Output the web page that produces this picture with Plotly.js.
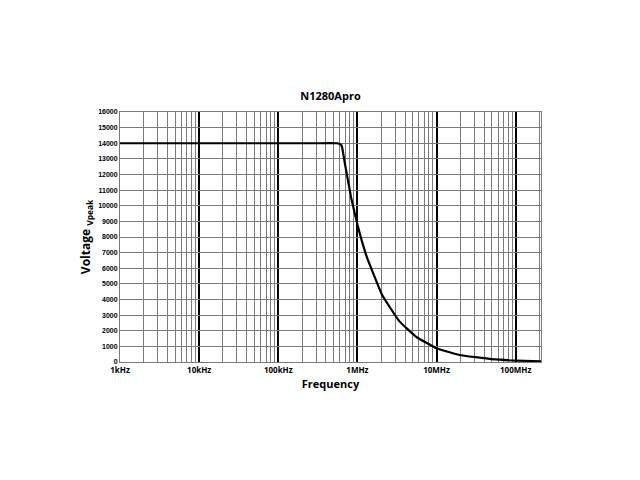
<!DOCTYPE html>
<html>
<head>
<meta charset="utf-8">
<script src="https://cdn.plot.ly/plotly-3.0.1.min.js"></script>
<style>html,body{margin:0;padding:0;background:#fff;}#chart{width:640px;height:480px;}</style>
</head>
<body>
<div id="chart"></div>
<script>
var freqHz = [1e3, 1e4, 1e5, 3e5, 5.5e5, 6e5, 6.2e5, 6.4e5, 7e5, 8.35e5, 1e6, 1.13e6, 1.32e6, 2.07e6, 3.4e6, 5.56e6, 1e7, 1.94e7, 5e7, 1e8, 2.1e8];
var voltageVpeak = [14000, 14000, 14000, 14000, 14000, 13950, 13900, 13750, 12600, 10500, 8800, 7800, 6700, 4250, 2600, 1600, 880, 450, 180, 90, 45];
var xTickVals = [1e3, 1e4, 1e5, 1e6, 1e7, 1e8];
var xTickText = ['1kHz', '10kHz', '100kHz', '1MHz', '10MHz', '100MHz'];

var trace = {
  x: freqHz, y: voltageVpeak, type: 'scatter', mode: 'lines',
  line: {color: '#000', width: 2.2, shape: 'spline', smoothing: 0.3},
  hoverinfo: 'skip', showlegend: false
};

var layout = {
  width: 640, height: 480,
  margin: {l: 120, r: 99, t: 112, b: 118},
  paper_bgcolor: '#fff', plot_bgcolor: '#fff',
  showlegend: false,
  title: {text: 'N1280Apro', x: 0.5, xref: 'paper', y: 0.8, yref: 'container', yanchor: 'middle',
    font: {family: 'Open Sans', size: 11, color: '#000', weight: 700}},
  xaxis: {
    type: 'log', range: [3, 8.32],
    tickvals: xTickVals, ticktext: xTickText, ticks: '',
    tickfont: {family: 'Open Sans', size: 8, color: '#000', weight: 700},
    showgrid: true, gridcolor: '#000', gridwidth: 2,
    minor: {dtick: 'D1', showgrid: true, gridcolor: '#7a7a7a', gridwidth: 1, ticks: ''},
    showline: true, linecolor: '#7a7a7a', linewidth: 1, mirror: true,
    zeroline: false,
    title: {text: 'Frequency', standoff: 6, font: {family: 'Open Sans', size: 11, color: '#000', weight: 700}}
  },
  yaxis: {
    range: [0, 16000], dtick: 1000, tick0: 0, ticks: '', tickformat: 'd',
    tickfont: {family: 'Liberation Sans', size: 7, color: '#000', weight: 700},
    showgrid: true, gridcolor: '#7a7a7a', gridwidth: 1,
    showline: true, linecolor: '#7a7a7a', linewidth: 1, mirror: true,
    zeroline: false,
    title: {text: 'Voltage <sub>Vpeak</sub>', standoff: 4, font: {family: 'Open Sans', size: 12, color: '#000', weight: 700}}
  }
};

Plotly.newPlot('chart', [trace], layout, {staticPlot: true, displayModeBar: false});
</script>
</body>
</html>
